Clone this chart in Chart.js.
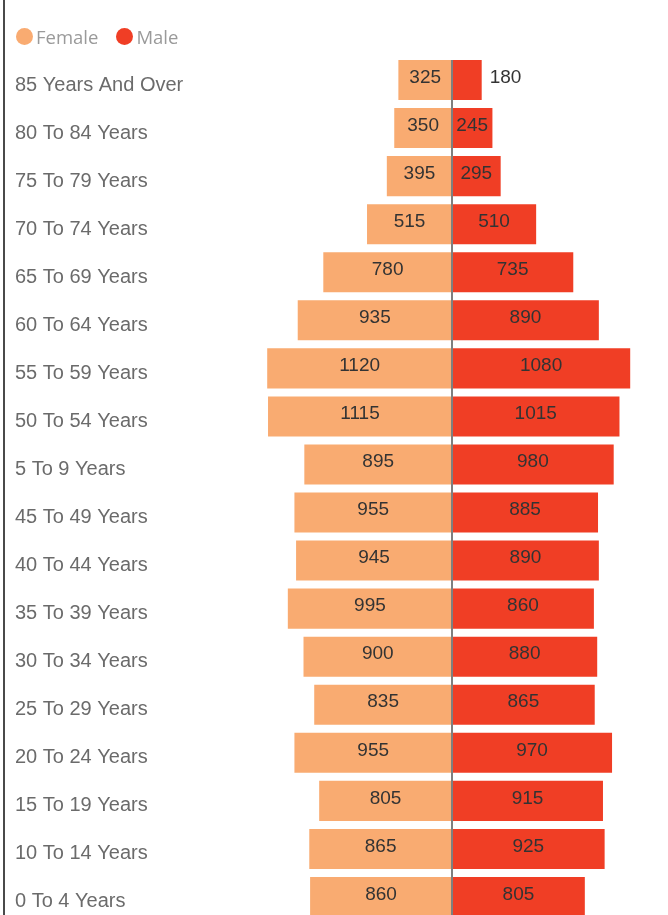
<!DOCTYPE html>
<html lang="en">
<head>
<meta charset="UTF-8">
<title>Population pyramid</title>
<script src="https://cdn.jsdelivr.net/npm/chart.js"></script>
<style>
  html, body { margin: 0; padding: 0; background: #fff; overflow: hidden; }
  .wrap { position: relative; width: 668px; height: 915px; overflow: hidden; }
  .edge { position: absolute; left: 3px; top: 0; bottom: 0; border-left: 2px solid #4a4a4a; z-index: 2; }
  #legend { position: absolute; left: 16px; top: 24px; display: flex; font-family: "Open Sans", sans-serif; font-size: 18.5px; color: #9a9a9a; z-index: 2; }
  #legend .item { display: flex; align-items: center; margin-right: 18px; }
  #legend .dot { width: 17px; height: 17px; border-radius: 50%; margin-right: 3px; }
  canvas { position: absolute; left: 0; top: 0; }
</style>
</head>
<body>
<div class="wrap">
  <div class="edge"></div>
  <div id="legend"></div>
  <canvas id="myChart" width="668" height="936"></canvas>
</div>
<script>
const categories = ['85 Years And Over', '80 To 84 Years', '75 To 79 Years', '70 To 74 Years', '65 To 69 Years',
  '60 To 64 Years', '55 To 59 Years', '50 To 54 Years', '5 To 9 Years', '45 To 49 Years', '40 To 44 Years',
  '35 To 39 Years', '30 To 34 Years', '25 To 29 Years', '20 To 24 Years', '15 To 19 Years', '10 To 14 Years', '0 To 4 Years'];
const female = [325, 350, 395, 515, 780, 935, 1120, 1115, 895, 955, 945, 995, 900, 835, 955, 805, 865, 860];
const male = [180, 245, 295, 510, 735, 890, 1080, 1015, 980, 885, 890, 860, 880, 865, 970, 915, 925, 805];
const seriesNames = ['Female', 'Male'];
const seriesColors = ['#f9ab71', '#f03e25'];

// legend
const legend = document.getElementById('legend');
seriesNames.forEach((name, i) => {
  const item = document.createElement('div');
  item.className = 'item';
  item.innerHTML = '<span class="dot" style="background:' + seriesColors[i] + '"></span>' + name;
  legend.appendChild(item);
});

// value labels + centre line
const pyramidLabels = {
  id: 'pyramidLabels',
  afterDatasetsDraw(chart) {
    const ctx = chart.ctx;
    const xs = chart.scales.x;
    const area = chart.chartArea;
    const zero = xs.getPixelForValue(0);

    ctx.save();
    ctx.font = '19px "Liberation Sans", Arial, sans-serif';
    ctx.fillStyle = '#333333';
    ctx.textBaseline = 'middle';
    chart.data.datasets.forEach((ds, di) => {
      const meta = chart.getDatasetMeta(di);
      meta.data.forEach((bar, i) => {
        const val = Math.abs(ds.data[i]);
        const txt = String(val);
        const w = ctx.measureText(txt).width;
        const barW = Math.abs(bar.x - bar.base);
        const y = bar.y - 2.5;
        if (w + 4 > barW) {
          if (di === 0) { ctx.textAlign = 'right'; ctx.fillText(txt, Math.min(bar.x, bar.base) - 8, y); }
          else { ctx.textAlign = 'left'; ctx.fillText(txt, Math.max(bar.x, bar.base) + 8, y); }
        } else {
          ctx.textAlign = 'center';
          ctx.fillText(txt, (bar.x + bar.base) / 2, y);
        }
      });
    });

    ctx.strokeStyle = '#7f7f7f';
    ctx.lineWidth = 2;
    ctx.beginPath();
    ctx.moveTo(zero, area.top + 4);
    ctx.lineTo(zero, area.bottom);
    ctx.stroke();
    ctx.restore();
  }
};

const ctx = document.getElementById('myChart').getContext('2d');
const myChart = new Chart(ctx, {
  type: 'bar',
  data: {
    labels: categories,
    datasets: [
      {
        label: seriesNames[0],
        data: female.map(v => -v),
        backgroundColor: seriesColors[0],
        borderWidth: 0,
        categoryPercentage: 1,
        barPercentage: 40 / 48
      },
      {
        label: seriesNames[1],
        data: male,
        backgroundColor: seriesColors[1],
        borderWidth: 0,
        categoryPercentage: 1,
        barPercentage: 40 / 48
      }
    ]
  },
  options: {
    indexAxis: 'y',
    responsive: false,
    animation: false,
    layout: { padding: { left: 15, right: 1.5, top: 56, bottom: 0 } },
    scales: {
      x: {
        stacked: true,
        display: false,
        min: -1200,
        max: 1300
      },
      y: {
        stacked: true,
        grid: { display: false },
        border: { display: false },
        afterFit(scale) { scale.width = 239; },
        ticks: {
          crossAlign: 'far',
          labelOffset: 5,
          color: '#6b6b6b',
          font: { family: '"Liberation Sans", Arial, sans-serif', size: 20 }
        }
      }
    },
    plugins: {
      legend: { display: false },
      tooltip: { enabled: false }
    }
  },
  plugins: [pyramidLabels]
});
</script>
</body>
</html>
